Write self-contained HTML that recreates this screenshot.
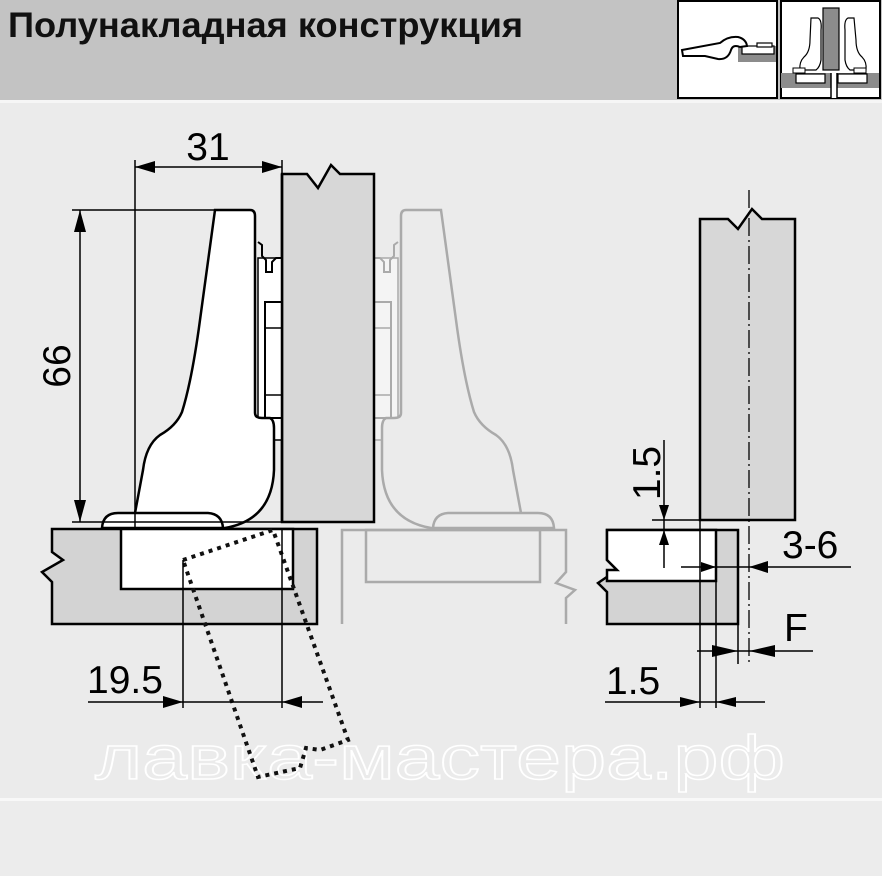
<!DOCTYPE html>
<html><head><meta charset="utf-8"><style>
html,body{margin:0;padding:0;background:#ebebeb}
svg{display:block}
text{font-family:"Liberation Sans",Arial,sans-serif}
</style></head><body>
<svg width="882" height="876" viewBox="0 0 882 876" xmlns="http://www.w3.org/2000/svg">
<rect x="0" y="0" width="882" height="876" fill="#ebebeb"/>
<rect x="0" y="0" width="882" height="100" fill="#c3c3c3"/>
<rect x="0" y="100" width="882" height="3" fill="#f6f6f6"/>
<rect x="0" y="798" width="882" height="3" fill="#f8f8f8"/>
<rect x="0" y="801" width="882" height="75" fill="#ececec"/>
<text x="8" y="37" font-size="35" font-weight="bold" fill="#111" textLength="515" lengthAdjust="spacingAndGlyphs" font-family="Liberation Sans, DejaVu Sans, sans-serif">Полунакладная конструкция</text>

<!-- icon 1 -->
<rect x="678" y="1" width="99" height="97" fill="#fff" stroke="#000" stroke-width="2"/>
<rect x="738" y="46" width="38" height="16" fill="#8c8c8c"/>
<rect x="742" y="46" width="32" height="8" fill="#fff" stroke="#000" stroke-width="1.2"/>
<rect x="757" y="43" width="15" height="4" fill="#fff" stroke="#000" stroke-width="1.2"/>
<path d="M682,50 L720,43 Q728,36 738,37 Q746,39 747,46 L740,47 Q733,44 731,50 Q728,60 718,59 L705,56 L683,56 Z" fill="#fff" stroke="#000" stroke-width="2"/>
<!-- icon 2 -->
<rect x="781" y="1" width="99" height="97" fill="#fff" stroke="#000" stroke-width="2"/>
<rect x="781" y="73" width="98" height="15" fill="#8c8c8c"/>
<rect x="831" y="73" width="6" height="25" fill="#fff"/>
<line x1="831" y1="73" x2="831" y2="98" stroke="#000" stroke-width="1.5"/>
<line x1="837" y1="73" x2="837" y2="98" stroke="#000" stroke-width="1.5"/>
<rect x="796" y="74" width="29" height="9" fill="#fff" stroke="#000" stroke-width="1.2"/>
<rect x="838" y="74" width="29" height="9" fill="#fff" stroke="#000" stroke-width="1.2"/>
<path d="M811,18 L818,18 Q822,20 821,30 L821,60 Q820,67 816,70 L800,70 Q799,62 804,57 Q810,52 810,40 Z" fill="#fff" stroke="#000" stroke-width="1.2"/>
<path d="M854,18 L848,18 Q844,20 845,30 L845,60 Q846,67 850,70 L866,70 Q867,62 862,57 Q856,52 856,40 Z" fill="#fff" stroke="#000" stroke-width="1.2"/>
<rect x="793" y="68" width="12" height="5" fill="#fff" stroke="#000" stroke-width="1"/>
<rect x="854" y="68" width="12" height="5" fill="#fff" stroke="#000" stroke-width="1"/>
<rect x="823" y="8" width="16" height="62" fill="#8c8c8c" stroke="#000" stroke-width="1.2"/>

<!-- watermark -->
<text x="95" y="779" font-size="62" fill="#ebebeb" stroke="#ffffff" stroke-width="1.5" textLength="690" lengthAdjust="spacingAndGlyphs" font-family="Liberation Sans, DejaVu Sans, sans-serif">лавка-мастера.рф</text>

<!-- ghost cabinet -->
<g fill="none" stroke="#aaaaaa" stroke-width="2.5">
<path d="M342,624 L342,530 L566,530 L566,572 L556,583 L575,590 L566,598 L566,624"/>
<rect x="366" y="530" width="174" height="52"/>
</g>
<!-- ghost hinge (mirror) -->
<g transform="translate(656,0) scale(-1,1)" fill="#ebebeb" stroke="#aaaaaa" stroke-width="2.5">
<rect x="258" y="258" width="24" height="182" fill="#f4f4f4" stroke="#aaaaaa" stroke-width="1.5"/>
<path d="M258,242 L262,245 L262,256 L266,260 L266,272 L272,272 L272,262 L276,258 L282,258" fill="none" stroke-width="2"/>
<rect x="265" y="302" width="17" height="116" fill="#f4f4f4" stroke-width="2"/>
<line x1="265" y1="328" x2="282" y2="328" stroke-width="1.5"/>
<line x1="265" y1="395" x2="282" y2="395" stroke-width="1.5"/>
<path d="M215,210 L250,210 Q255,210 255,216 L255,413 Q255,418 262,418 L270,418 Q274,420 274,428 L274,470 Q272,520 225,528 L135,528 L135,513 L143,470 Q146,445 160,435 Q176,426 182,412 Q192,380 200,320 Z"/>
<path d="M102,528 Q103,513 118,513 L208,513 Q222,514 223,528 Z"/>
</g>

<!-- main door -->
<path d="M282,174 L307,174 L318,188 L331,165 L340,174 L374,174 L374,522 L282,522 Z" fill="#d7d7d7" stroke="#000" stroke-width="2.5"/>
<!-- main cabinet -->
<path d="M52,529 L317,529 L317,624 L52,624 L52,582 L42,572 L63,560 L52,552 Z" fill="#d3d3d3" stroke="#000" stroke-width="2.5"/>
<rect x="121" y="529" width="172" height="60" fill="#fff" stroke="#000" stroke-width="2.5"/>
<!-- main hinge -->
<g fill="#fff" stroke="#000" stroke-width="2.5">
<rect x="258" y="258" width="24" height="182" stroke-width="1.5"/>
<path d="M258,242 L262,245 L262,256 L266,260 L266,272 L272,272 L272,262 L276,258 L282,258" fill="none" stroke-width="2"/>
<rect x="265" y="302" width="17" height="116" stroke-width="2"/>
<line x1="265" y1="328" x2="282" y2="328" stroke-width="1.5"/>
<line x1="265" y1="395" x2="282" y2="395" stroke-width="1.5"/>
<path d="M215,210 L250,210 Q255,210 255,216 L255,413 Q255,418 262,418 L270,418 Q274,420 274,428 L274,470 Q272,520 225,528 L135,528 L135,513 L143,470 Q146,445 160,435 Q176,426 182,412 Q192,380 200,320 Z"/>
<path d="M102,528 Q103,513 118,513 L208,513 Q222,514 223,528 Z"/>
</g>
<line x1="282" y1="174" x2="282" y2="522" stroke="#000" stroke-width="2.5"/>

<!-- dotted rotated door -->
<path d="M183,560 L273,530 L348,740 L320,750 L306,748 L300,768 L258,777 Z" fill="none" stroke="#111" stroke-width="4" stroke-dasharray="4,5"/>

<!-- dimensions left -->
<g stroke="#000" stroke-width="1.5" fill="none">
<line x1="135" y1="160" x2="135" y2="528"/>
<line x1="282" y1="160" x2="282" y2="174"/>
<line x1="135" y1="167" x2="282" y2="167"/>
<line x1="72" y1="210" x2="215" y2="210"/>
<line x1="72" y1="522" x2="282" y2="522"/>
<line x1="80" y1="210" x2="80" y2="522"/>
<line x1="183" y1="560" x2="183" y2="708"/>
<line x1="282" y1="529" x2="282" y2="708"/>
<line x1="88" y1="702" x2="323" y2="702"/>
</g>
<g fill="#000">
<polygon points="135,167 155,161 155,173"/>
<polygon points="282,167 262,161 262,173"/>
<polygon points="80,210 74,232 86,232"/>
<polygon points="80,522 74,500 86,500"/>
<polygon points="183,702 163,696 163,708"/>
<polygon points="282,702 302,696 302,708"/>
</g>
<text x="208" y="160" font-size="39" text-anchor="middle" fill="#000">31</text>
<text transform="translate(70,366) rotate(-90)" font-size="39" text-anchor="middle" fill="#000">66</text>
<text x="87" y="693" font-size="39" fill="#000">19.5</text>

<!-- right view -->
<path d="M700,219 L728,219 L738,229 L752,209 L762,219 L795,219 L795,520 L700,520 Z" fill="#d7d7d7" stroke="#000" stroke-width="2.5"/>
<path d="M607,530 L738,530 L738,624 L607,624 L607,592 L598,583 L617,570 L607,560 Z" fill="#d3d3d3" stroke="#000" stroke-width="2.5"/>
<path d="M607,530 L716,530 L716,581 L607,581 L607,570 L617,570 L607,560 Z" fill="#fff" stroke="#000" stroke-width="2.5"/>
<line x1="749" y1="190" x2="749" y2="665" stroke="#000" stroke-width="1.3" stroke-dasharray="18,4,2,4"/>
<g stroke="#000" stroke-width="1.5" fill="none">
<line x1="664" y1="440" x2="664" y2="568"/>
<line x1="652" y1="520" x2="700" y2="520"/>
<line x1="700" y1="520" x2="700" y2="708"/>
<line x1="716" y1="581" x2="716" y2="708"/>
<line x1="738" y1="624" x2="738" y2="664"/>
<line x1="681" y1="567" x2="851" y2="567"/>
<line x1="697" y1="651" x2="813" y2="651"/>
<line x1="605" y1="702" x2="765" y2="702"/>
</g>
<g fill="#000">
<polygon points="664,520 659,505 669,505"/>
<polygon points="664,530 659,545 669,545"/>
<polygon points="716,567 701,562 701,572"/>
<polygon points="749,567 768,561 768,573"/>
<polygon points="738,651 712,645 712,657"/>
<polygon points="749,651 775,645 775,657"/>
<polygon points="700,702 680,697 680,707"/>
<polygon points="716,702 736,697 736,707"/>
</g>
<text transform="translate(660,473) rotate(-90)" font-size="39" text-anchor="middle" fill="#000">1.5</text>
<text x="782" y="558" font-size="39" fill="#000">3-6</text>
<text x="784" y="641" font-size="39" fill="#000">F</text>
<text x="606" y="694" font-size="39" fill="#000">1.5</text>
</svg>
</body></html>
